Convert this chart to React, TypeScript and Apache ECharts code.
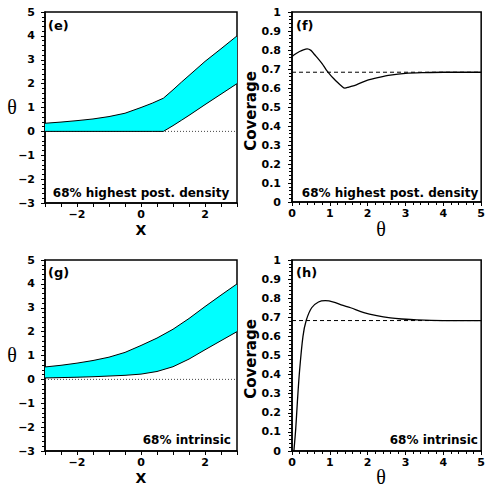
import React, { useEffect, useRef } from "react";
import * as echarts from "echarts";

// Panel (e): 68% highest posterior density band
const eX = [-3, -2.5, -2, -1.5, -1, -0.5, 0, 0.35, 0.7, 1.0, 1.27, 1.5, 2, 2.5, 3];
const eUpper = [0.34, 0.39, 0.45, 0.52, 0.62, 0.76, 1.0, 1.18, 1.39, 1.74, 2.07, 2.34, 2.93, 3.46, 4.0];
const eLower = [0, 0, 0, 0, 0, 0, 0, 0, 0, 0.24, 0.47, 0.67, 1.12, 1.56, 2.0];

// Panel (g): 68% intrinsic band
const gX = [-3, -2.5, -2, -1.5, -1, -0.5, 0, 0.5, 1, 1.5, 2, 2.5, 3];
const gUpper = [0.52, 0.59, 0.68, 0.79, 0.93, 1.13, 1.42, 1.73, 2.1, 2.55, 3.05, 3.53, 4.0];
const gLower = [0.06, 0.075, 0.09, 0.11, 0.14, 0.17, 0.22, 0.33, 0.53, 0.85, 1.24, 1.62, 2.0];

// Panel (f): coverage, highest post. density
const fTheta = [0, 0.1, 0.2, 0.3, 0.4, 0.5, 0.6, 0.7, 0.8, 0.9, 1.0, 1.1, 1.2, 1.3, 1.4, 1.5, 1.7, 2.0, 2.3, 2.6, 3.0, 3.5, 4, 5];
const fCov = [0.766, 0.78, 0.792, 0.801, 0.806, 0.798, 0.775, 0.752, 0.727, 0.697, 0.672, 0.65, 0.63, 0.612, 0.599, 0.605, 0.617, 0.641, 0.656, 0.668, 0.677, 0.681, 0.683, 0.683];

// Panel (h): coverage, intrinsic
const hTheta = [0.05, 0.1, 0.14, 0.2, 0.29, 0.375, 0.52, 0.7, 0.88, 1.1, 1.3, 1.55, 1.9, 2.24, 2.6, 2.9, 3.3, 4, 5];
const hCov = [0, 0.12, 0.25, 0.42, 0.6, 0.683, 0.75, 0.78, 0.787, 0.78, 0.765, 0.75, 0.725, 0.709, 0.697, 0.691, 0.686, 0.683, 0.683];

const nominal = 0.683;

const FONT = '"DejaVu Sans"';
const black = "#000";

function fmtNum(v: number): string {
  const r = Math.round(v * 10) / 10;
  return r < 0 ? "\u2212" + Math.abs(r) : String(r);
}

function baseAxisStyle() {
  return {
    axisLine: { show: true, onZero: false, lineStyle: { color: black, width: 1.5 } },
    axisTick: { show: true, inside: false, length: 4, lineStyle: { color: black, width: 1 } },
    minorTick: { show: true, splitNumber: 5, length: 3, lineStyle: { color: black, width: 1 } },
    splitLine: { show: false },
    minorSplitLine: { show: false },
  };
}

function labelStyle(margin: number, formatter: (v: number) => string) {
  return {
    show: true,
    margin,
    color: black,
    fontFamily: FONT,
    fontWeight: "bold" as const,
    fontSize: 11,
    formatter,
    showMinLabel: true,
    showMaxLabel: true,
  };
}

function txt(x: number, y: number, text: string, opts: any = {}) {
  return {
    type: "text",
    x,
    y,
    rotation: opts.rotation || 0,
    silent: true,
    style: {
      text,
      fill: black,
      font: opts.font || `bold 12px ${FONT}`,
      align: opts.align || "center",
      verticalAlign: "middle",
    },
  };
}

export default function App() {
  const ref = useRef<HTMLDivElement>(null);
  useEffect(() => {
    if (!ref.current) return;
    const chart = echarts.init(ref.current, undefined, { renderer: "svg" });

    const grids = [
      { left: 45, top: 12, width: 192, height: 191 },
      { left: 292, top: 12, width: 192, height: 190 },
      { left: 45, top: 260, width: 192, height: 191 },
      { left: 292, top: 260, width: 192, height: 191 },
    ].map((g) => ({ ...g, show: true, borderColor: black, borderWidth: 1.5, backgroundColor: "transparent", containLabel: false }));

    const xPanelX = (gi: number) => ({
      gridIndex: gi,
      type: "value",
      min: -3,
      max: 3,
      interval: 0.5,
      ...baseAxisStyle(),
      minorTick: { show: false },
      axisLabel: labelStyle(6, (v: number) => (Math.abs(v % 2) < 1e-9 ? fmtNum(v) : "")),
    });
    const thetaY = (gi: number) => ({
      gridIndex: gi,
      type: "value",
      min: -3,
      max: 5,
      interval: 1,
      ...baseAxisStyle(),
      axisLabel: labelStyle(10, fmtNum),
    });
    const thetaX = (gi: number) => ({
      gridIndex: gi,
      type: "value",
      min: 0,
      max: 5,
      interval: 1,
      ...baseAxisStyle(),
      axisLabel: labelStyle(6, fmtNum),
    });
    const covY = (gi: number) => ({
      gridIndex: gi,
      type: "value",
      min: 0,
      max: 1,
      interval: 0.1,
      ...baseAxisStyle(),
      axisLabel: labelStyle(11, fmtNum),
    });

    const bandSeries = (gi: number, xs: number[], lo: number[], up: number[]) => [
      {
        type: "line",
        xAxisIndex: gi,
        yAxisIndex: gi,
        data: [[-3, 0], [3, 0]],
        symbol: "none",
        lineStyle: { color: "#444", width: 1, type: [1, 2] },
        z: 1,
      },
      {
        type: "custom",
        xAxisIndex: gi,
        yAxisIndex: gi,
        data: xs.map((x, i) => [x, lo[i], up[i]]),
        encode: { x: 0, y: [1, 2] },
        clip: true,
        z: 2,
        renderItem: (params: any, api: any) => {
          if (params.dataIndex !== 0) return null;
          const pts: number[][] = [];
          for (let i = 0; i < xs.length; i++) pts.push(api.coord([xs[i], up[i]]));
          for (let i = xs.length - 1; i >= 0; i--) pts.push(api.coord([xs[i], lo[i]]));
          return {
            type: "polygon",
            shape: { points: pts },
            style: { fill: "#00FFFF", stroke: "none" },
          };
        },
      },
      {
        type: "line",
        xAxisIndex: gi,
        yAxisIndex: gi,
        data: xs.map((x, i) => [x, lo[i]]),
        symbol: "none",
        lineStyle: { color: black, width: 1 },
        z: 4,
      },
      {
        type: "line",
        xAxisIndex: gi,
        yAxisIndex: gi,
        data: xs.map((x, i) => [x, up[i]]),
        symbol: "none",
        lineStyle: { color: black, width: 1 },
        z: 4,
      },
    ];

    const covSeries = (gi: number, xs: number[], ys: number[], smooth: any) => [
      {
        type: "line",
        xAxisIndex: gi,
        yAxisIndex: gi,
        data: [[0, nominal], [5, nominal]],
        symbol: "none",
        lineStyle: { color: black, width: 1, type: [4, 3] },
        z: 2,
      },
      {
        type: "line",
        xAxisIndex: gi,
        yAxisIndex: gi,
        data: xs.map((x, i) => [x, ys[i]]),
        symbol: "none",
        smooth,
        lineStyle: { color: black, width: 1.3 },
        z: 3,
      },
    ];

    const thetaFont = '20px "Liberation Serif"';
    const option: any = {
      animation: false,
      backgroundColor: "#fff",
      grid: grids,
      xAxis: [xPanelX(0), thetaX(1), xPanelX(2), thetaX(3)],
      yAxis: [thetaY(0), covY(1), thetaY(2), covY(3)],
      series: [
        ...bandSeries(0, eX, eLower, eUpper),
        ...covSeries(1, fTheta, fCov, 0.3),
        ...bandSeries(2, gX, gLower, gUpper),
        ...covSeries(3, hTheta, hCov, 0.3),
      ],
      graphic: [
        txt(48, 25, "(e)", { align: "left", font: `bold 13px ${FONT}` }),
        txt(296, 25, "(f)", { align: "left", font: `bold 13px ${FONT}` }),
        txt(48, 272, "(g)", { align: "left", font: `bold 13px ${FONT}` }),
        txt(296, 272, "(h)", { align: "left", font: `bold 13px ${FONT}` }),
        txt(141, 193, "68% highest post. density"),
        txt(390, 193, "68% highest post. density"),
        txt(231, 440, "68% intrinsic", { align: "right" }),
        txt(478, 440, "68% intrinsic", { align: "right" }),
        txt(12, 107, "\u03B8", { font: thetaFont }),
        txt(12, 355, "\u03B8", { font: thetaFont }),
        txt(141, 230, "X", { font: `bold 14px ${FONT}` }),
        txt(141, 478, "X", { font: `bold 14px ${FONT}` }),
        txt(381, 229, "\u03B8", { font: thetaFont }),
        txt(381, 477, "\u03B8", { font: thetaFont }),
        txt(251, 111, "Coverage", { font: `bold 15px ${FONT}`, rotation: Math.PI / 2 }),
        txt(251, 359, "Coverage", { font: `bold 15px ${FONT}`, rotation: Math.PI / 2 }),
      ],
    };
    chart.setOption(option);
    return () => chart.dispose();
  }, []);
  return (
    <div
      ref={ref}
      style={{ position: "fixed", left: 0, top: 0, width: 488, height: 491, background: "#fff" }}
    />
  );
}
